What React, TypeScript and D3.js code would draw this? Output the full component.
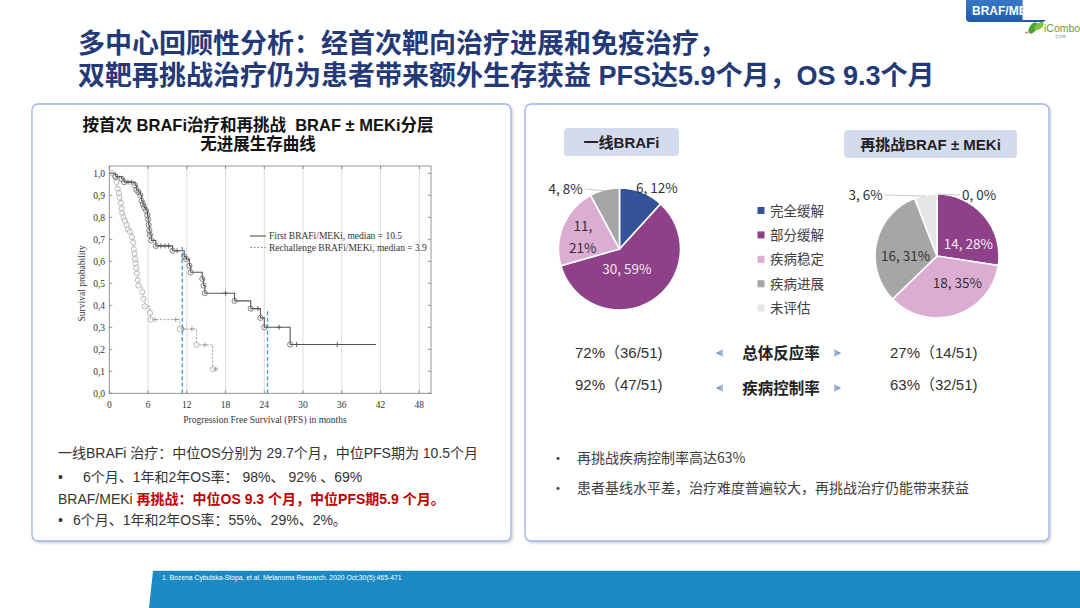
import React from "react";
import * as d3 from "d3";

// ---------------- DATA ----------------
const TITLE_LINE1 = "多中心回顾性分析：经首次靶向治疗进展和免疫治疗，";
const TITLE_LINE2 = "双靶再挑战治疗仍为患者带来额外生存获益 PFS达5.9个月，OS 9.3个月";
const TAB_TEXT = "BRAF/MEKi";
const KM_TITLE1 = "按首次 BRAFi治疗和再挑战  BRAF ± MEKi分层";
const KM_TITLE2 = "无进展生存曲线";
const X_TICKS = [0, 6, 12, 18, 24, 30, 36, 42, 48];
const Y_TICKS = [0, 0.1, 0.2, 0.3, 0.4, 0.5, 0.6, 0.7, 0.8, 0.9, 1.0];
const X_LABEL = "Progression Free Survival (PFS) in months";
const Y_LABEL = "Survival probability";
const KM_LEGEND = ["First BRAFi/MEKi, median = 10.5", "Rechallenge BRAFi/MEKi, median = 3.9"];

// step points [month, survival]
const FIRST_STEPS: [number, number][] = [
  [0, 1.0], [1.0, 0.985], [1.9, 0.975], [2.3, 0.96], [4.0, 0.945], [4.2, 0.925], [4.5, 0.915],
  [4.8, 0.9], [5.0, 0.875], [5.2, 0.86], [5.4, 0.845], [5.7, 0.83], [5.9, 0.81], [6.0, 0.79],
  [6.1, 0.765], [6.2, 0.74], [6.3, 0.72], [6.5, 0.695], [7.2, 0.67], [9.8, 0.648],
  [11.6, 0.622], [11.9, 0.61], [12.4, 0.58], [12.6, 0.55], [14.4, 0.52], [14.6, 0.49],
  [14.8, 0.455], [19.4, 0.42], [21.9, 0.385], [23.4, 0.343], [24.0, 0.30], [28.0, 0.222],
];
const FIRST_END = 41.3;
const FIRST_CENSOR: [number, number][] = [
  [2.9, 0.96], [3.4, 0.96], [8.0, 0.67], [8.6, 0.67], [9.2, 0.67], [10.5, 0.648],
  [18.0, 0.455], [23.0, 0.385], [26.3, 0.30], [29.0, 0.222], [35.3, 0.222],
];
const RECH_STEPS: [number, number][] = [
  [0.4, 1.0], [0.9, 0.985], [1.1, 0.96], [1.3, 0.93], [1.5, 0.91], [1.6, 0.89], [1.8, 0.865],
  [1.9, 0.84], [2.0, 0.82], [2.2, 0.80], [2.4, 0.785], [2.7, 0.765], [2.9, 0.745], [3.2, 0.735],
  [3.5, 0.71], [3.7, 0.685], [3.8, 0.655], [3.9, 0.635], [4.0, 0.61], [4.1, 0.59], [4.2, 0.57],
  [4.3, 0.545], [4.4, 0.515], [4.5, 0.49], [5.1, 0.46], [5.3, 0.43], [5.5, 0.395],
  [6.3, 0.365], [6.4, 0.335], [10.9, 0.292], [13.5, 0.22], [16.0, 0.11],
];
const RECH_END = 16.6;
const RECH_CENSOR: [number, number][] = [
  [7.1, 0.335], [10.3, 0.335], [11.5, 0.292], [12.8, 0.292], [14.8, 0.22], [16.5, 0.11],
];
const MEDIAN_MONTHS = [11.3, 24.5];
const MEDIAN_TOPS = [0.665, 0.38];

const LEFT_LINES = [
  "一线BRAFi 治疗：中位OS分别为 29.7个月，中位PFS期为 10.5个月",
  "6个月、1年和2年OS率： 98%、 92% 、69%",
  "BRAF/MEKi ",
  "再挑战：中位OS 9.3 个月，中位PFS期5.9 个月。",
  "6个月、1年和2年OS率：55%、29%、2%。",
];

const CATEGORIES = ["完全缓解", "部分缓解", "疾病稳定", "疾病进展", "未评估"];
const CAT_COLORS = ["#33529a", "#8e4189", "#dbadd3", "#a6a6a6", "#e6e6e6"];
const PIE1_TITLE = "一线BRAFi";
const PIE2_TITLE = "再挑战BRAF ± MEKi";
const PIE1_VALUES = [6, 30, 11, 4, 0];
const PIE1_PCTS = ["12%", "59%", "21%", "8%", ""];
const PIE2_VALUES = [0, 14, 18, 16, 3];
const PIE2_PCTS = ["0%", "28%", "35%", "31%", "6%"];

const STAT_NAMES = ["总体反应率", "疾病控制率"];
const STAT_FIRST = ["72%（36/51)", "92%（47/51)"];
const STAT_RECH = ["27%（14/51)", "63%（32/51)"];

const RIGHT_BULLETS = ["再挑战疾病控制率高达63%", "患者基线水平差，治疗难度普遍较大，再挑战治疗仍能带来获益"];
const CITATION = "1. Bozena Cybulska-Stopa,  et al. Melanoma Research. 2020 Oct;30(5):465-471";

// ---------------- STYLE / LAYOUT ----------------
const SANS = "'Liberation Sans', Arial, 'Noto Sans CJK SC', sans-serif";
const CJK = "'Noto Sans CJK SC', 'Liberation Sans', sans-serif";
const SERIF = "'Liberation Serif', 'Times New Roman', serif";
const NAVY = "#243a78";

type LabelCfg = { k: number; dx: number; dy: number; anchor: string; leader?: boolean; color: string; split?: boolean; hide?: boolean };
const PIE1_LABELS: LabelCfg[] = [
  { k: 1.15, dx: 12, dy: 4, anchor: "middle", color: "#333" },
  { k: 0.45, dx: -7, dy: -3, anchor: "middle", color: "#f3e4f1" },
  { k: 0.6, dx: -3, dy: 2, anchor: "middle", color: "#333", split: true },
  { k: 1.0, dx: -22, dy: -1, anchor: "end", color: "#333", leader: true },
  { k: 1, dx: 0, dy: 0, anchor: "middle", color: "#333", hide: true },
];
const PIE2_LABELS: LabelCfg[] = [
  { k: 1.0, dx: 25, dy: 1, anchor: "start", color: "#333", leader: true },
  { k: 0.6, dx: 3, dy: 12, anchor: "middle", color: "#f6eaf5" },
  { k: 0.6, dx: 9, dy: -8, anchor: "middle", color: "#333" },
  { k: 0.6, dx: 5, dy: 8, anchor: "middle", color: "#333" },
  { k: 1.0, dx: -43, dy: 0, anchor: "end", color: "#333", leader: true },
];

function KMChart() {
  const x = d3.scaleLinear().domain([0, 48]).range([109.3, 419.3]);
  const y = d3.scaleLinear().domain([0, 1]).range([393.3, 173.3]);
  const boxTop = 166;
  const boxRight = 431;
  const line = d3.line<[number, number]>().x((d) => x(d[0])).y((d) => y(d[1])).curve(d3.curveStepAfter);
  const firstPts: [number, number][] = [...FIRST_STEPS, [FIRST_END, FIRST_STEPS[FIRST_STEPS.length - 1][1]]];
  const rechPts: [number, number][] = [...RECH_STEPS, [RECH_END, RECH_STEPS[RECH_STEPS.length - 1][1]]];
  const cross = (p: [number, number], c: string, i: number) => (
    <g key={i} stroke={c} strokeWidth={0.9}>
      <line x1={x(p[0]) - 2.5} x2={x(p[0]) + 2.5} y1={y(p[1])} y2={y(p[1])} />
      <line x1={x(p[0])} x2={x(p[0])} y1={y(p[1]) - 2.5} y2={y(p[1]) + 2.5} />
    </g>
  );
  return (
    <g>
      {X_TICKS.filter((t) => t > 0).map((t) => (
        <line key={t} x1={x(t)} x2={x(t)} y1={boxTop} y2={y(0)} stroke="#d4d4d4" strokeWidth={0.8} />
      ))}
      <rect x={x(0)} y={boxTop} width={boxRight - x(0)} height={y(0) - boxTop} fill="none" stroke="#8a8a8a" strokeWidth={0.9} />
      {X_TICKS.map((t) => (
        <g key={t}>
          <line x1={x(t)} x2={x(t)} y1={y(0)} y2={y(0) - 3} stroke="#777" strokeWidth={0.8} />
          <line x1={x(t)} x2={x(t)} y1={boxTop} y2={boxTop + 3} stroke="#777" strokeWidth={0.8} />
          <text x={x(t)} y={407.5} fontSize={9.5} fontFamily={SERIF} fill="#333" textAnchor="middle">{t}</text>
        </g>
      ))}
      {Y_TICKS.map((t) => (
        <g key={t}>
          <line x1={x(0)} x2={x(0) + 3} y1={y(t)} y2={y(t)} stroke="#777" strokeWidth={0.8} />
          <line x1={boxRight} x2={boxRight - 3} y1={y(t)} y2={y(t)} stroke="#777" strokeWidth={0.8} />
          <text x={105} y={y(t) + 3.2} fontSize={9.5} fontFamily={SERIF} fill="#333" textAnchor="end">{t.toFixed(1).replace(".", ",")}</text>
        </g>
      ))}
      <text x={265} y={423} fontSize={9.5} fontFamily={SERIF} fill="#333" textAnchor="middle">{X_LABEL}</text>
      <text transform={`translate(85,${(y(0) + y(1)) / 2}) rotate(-90)`} fontSize={9.5} fontFamily={SERIF} fill="#333" textAnchor="middle">{Y_LABEL}</text>
      {MEDIAN_MONTHS.map((m, i) => (
        <line key={i} x1={x(m)} x2={x(m)} y1={y(0)} y2={y(MEDIAN_TOPS[i])} stroke="#3d9ad8" strokeWidth={1.3} strokeDasharray="4,2.5" />
      ))}
      <path d={line(rechPts) || ""} fill="none" stroke="#a0a0a0" strokeWidth={1} strokeDasharray="2,1.6" />
      {RECH_STEPS.map((p, i) => (
        <circle key={i} cx={x(p[0])} cy={y(p[1])} r={2.6} fill="white" fillOpacity={0.6} stroke="#a8a8a8" strokeWidth={0.8} />
      ))}
      {RECH_CENSOR.map((p, i) => cross(p, "#999", i))}
      <path d={line(firstPts) || ""} fill="none" stroke="#555" strokeWidth={1.1} />
      {FIRST_STEPS.slice(1).map((p, i) => (
        <circle key={i} cx={x(p[0])} cy={y(p[1])} r={2.6} fill="none" stroke="#666" strokeWidth={0.8} />
      ))}
      {FIRST_CENSOR.map((p, i) => cross(p, "#555", i))}
      <line x1={250} x2={266} y1={236} y2={236} stroke="#555" strokeWidth={1.1} />
      <text x={269} y={239} fontSize={9.5} fontFamily={SERIF} fill="#333">{KM_LEGEND[0]}</text>
      <line x1={250} x2={266} y1={247.5} y2={247.5} stroke="#999" strokeWidth={1} strokeDasharray="2,1.6" />
      <text x={269} y={250.5} fontSize={9.5} fontFamily={SERIF} fill="#333">{KM_LEGEND[1]}</text>
    </g>
  );
}

function Pie({ cx, cy, r, values, pcts, labels }: { cx: number; cy: number; r: number; values: number[]; pcts: string[]; labels: LabelCfg[] }) {
  const arcs = d3.pie<number>().sort(null).value((d) => d)(values);
  const arc = d3.arc<d3.PieArcDatum<number>>().innerRadius(0).outerRadius(r);
  return (
    <g transform={`translate(${cx},${cy})`}>
      {arcs.map((a, i) =>
        a.value > 0 ? <path key={i} d={arc(a) || ""} fill={CAT_COLORS[i]} stroke="white" strokeWidth={1.6} /> : null
      )}
      {arcs.map((a, i) => {
        const cfg = labels[i];
        if (cfg.hide) return null;
        const mid = (a.startAngle + a.endAngle) / 2;
        const px = Math.sin(mid) * r * cfg.k;
        const py = -Math.cos(mid) * r * cfg.k;
        const tx = px + cfg.dx;
        const ty = py + cfg.dy;
        const txt = `${values[i]}, ${pcts[i]}`;
        return (
          <g key={i}>
            {cfg.leader && (
              <line
                x1={cfg.anchor === "end" ? tx + 2 : tx - 2}
                y1={ty}
                x2={px}
                y2={py + (cfg.anchor === "end" ? 1 : 0)}
                stroke="#bdbdbd"
                strokeWidth={0.8}
              />
            )}
            {cfg.split ? (
              <text x={tx} y={ty} fontSize={13.5} fontFamily={CJK} fill={cfg.color} textAnchor={cfg.anchor as any}>
                <tspan x={tx} dy={-6}>{`${values[i]},`}</tspan>
                <tspan x={tx} dy={22}>{pcts[i]}</tspan>
              </text>
            ) : (
              <text x={tx} y={ty + 5} fontSize={13.5} fontFamily={CJK} fill={cfg.color} textAnchor={cfg.anchor as any}>{txt}</text>
            )}
          </g>
        );
      })}
    </g>
  );
}

export default function App() {
  return (
    <svg width={1080} height={608} viewBox="0 0 1080 608" style={{ position: "absolute", left: 0, top: 0, background: "white" }}>
      <defs>
        <filter id="sh" x="-5%" y="-5%" width="110%" height="110%">
          <feDropShadow dx={1.5} dy={1.5} stdDeviation={1.2} floodColor="#000" floodOpacity={0.18} />
        </filter>
        <linearGradient id="tab" x1="0" x2="0" y1="0" y2="1">
          <stop offset="0" stopColor="#3f7fd0" />
          <stop offset="1" stopColor="#1f5aa8" />
        </linearGradient>
        <linearGradient id="arrowL" x1="0" x2="1" y1="0" y2="0">
          <stop offset="0" stopColor="#5f7fb8" />
          <stop offset="1" stopColor="#b8c6e2" />
        </linearGradient>
        <linearGradient id="arrowR" x1="1" x2="0" y1="0" y2="0">
          <stop offset="0" stopColor="#5f7fb8" />
          <stop offset="1" stopColor="#b8c6e2" />
        </linearGradient>
      </defs>
      <rect width={1080} height={608} fill="white" />

      {/* top-right tab + logo */}
      <rect x={966} y={-6} width={80} height={28} rx={4} fill="url(#tab)" />
      <text x={972} y={15} fontSize={12} fontWeight="bold" fontFamily={SANS} fill="white">{TAB_TEXT}</text>
      <rect x={1023} y={-2} width={60} height={22} fill="white" />
      <line x1={1023} x2={1023} y1={0} y2={20} stroke="#e6e6e6" strokeWidth={1} />
      <g>
        <ellipse cx={1033} cy={28} rx={3.5} ry={6.5} fill="#4aa82e" transform="rotate(35 1033 28)" />
        <ellipse cx={1039} cy={26} rx={3} ry={5.5} fill="#7cc243" transform="rotate(50 1039 26)" />
        <text x={1025} y={34} fontSize={6} fill="#d22" fontFamily={SANS}>+</text>
        <text x={1044} y={32} fontSize={10.5} fontFamily={SANS} fill="#6b9a3a">iCombo</text>
        <text x={1055} y={38} fontSize={3.5} fontFamily={CJK} fill="#8aa">爱康博</text>
      </g>

      {/* title */}
      <text x={78} y={53} fontSize={27} fontWeight="bold" fontFamily={SANS} fill={NAVY}>{TITLE_LINE1}</text>
      <text x={78} y={85} fontSize={27} fontWeight="bold" fontFamily={SANS} fill={NAVY}>{TITLE_LINE2}</text>

      {/* panels */}
      <rect x={32} y={104} width={479} height={437} rx={6} fill="white" stroke="#9fb2e8" strokeWidth={1.3} filter="url(#sh)" />
      <rect x={525} y={104} width={524} height={437} rx={6} fill="white" stroke="#9fb2e8" strokeWidth={1.3} filter="url(#sh)" />

      {/* KM title */}
      <text x={258} y={131} fontSize={16.5} fontWeight="bold" fontFamily={SANS} fill="#111" textAnchor="middle" style={{ whiteSpace: "pre" }}>{KM_TITLE1}</text>
      <text x={258} y={150} fontSize={16.5} fontWeight="bold" fontFamily={SANS} fill="#111" textAnchor="middle">{KM_TITLE2}</text>
      <KMChart />

      {/* left texts */}
      <g fontFamily={SANS} fontSize={14} fill="#333">
        <text x={58} y={458}>{LEFT_LINES[0]}</text>
        <text x={58} y={482}>•</text>
        <text x={83} y={482}>{LEFT_LINES[1]}</text>
        <text x={58} y={504} style={{ whiteSpace: "pre" }}>
          {LEFT_LINES[2]}
          <tspan fill="#c00000" fontWeight="bold">{LEFT_LINES[3]}</tspan>
        </text>
        <text x={58} y={525}>•</text>
        <text x={73} y={525}>{LEFT_LINES[4]}</text>
      </g>

      {/* pie titles */}
      <rect x={564} y={128} width={115} height={28} rx={4} fill="#d5dbef" />
      <text x={621.5} y={148} fontSize={15} fontWeight="bold" fontFamily={SANS} fill="#222" textAnchor="middle">{PIE1_TITLE}</text>
      <rect x={844} y={130} width={173} height={28} rx={4} fill="#d5dbef" />
      <text x={930.5} y={150} fontSize={15} fontWeight="bold" fontFamily={SANS} fill="#222" textAnchor="middle">{PIE2_TITLE}</text>

      <Pie cx={619.5} cy={249} r={61} values={PIE1_VALUES} pcts={PIE1_PCTS} labels={PIE1_LABELS} />
      <Pie cx={937} cy={256} r={62} values={PIE2_VALUES} pcts={PIE2_PCTS} labels={PIE2_LABELS} />

      {/* legend */}
      {CATEGORIES.map((c, i) => (
        <g key={c}>
          <rect x={757.5} y={207 + i * 24.4} width={7} height={7} fill={CAT_COLORS[i]} />
          <text x={770} y={215.5 + i * 24.4} fontSize={13.5} fontFamily={CJK} fill="#404040">{c}</text>
        </g>
      ))}

      {/* stats */}
      {STAT_NAMES.map((n, i) => {
        const yy = i === 0 ? 353 : 385;
        const yn = i === 0 ? 353 : 388;
        return (
          <g key={n}>
            <text x={575} y={yy + 5} fontSize={15} fontFamily={SANS} fill="#333">{STAT_FIRST[i]}</text>
            <polygon points={`${716},${yn} ${723},${yn - 4} ${723},${yn + 4}`} fill="url(#arrowL)" />
            <text x={781} y={yn + 5.5} fontSize={15.5} fontWeight="bold" fontFamily={CJK} fill="#222" textAnchor="middle">{n}</text>
            <polygon points={`${841},${yn} ${834},${yn - 4} ${834},${yn + 4}`} fill="url(#arrowR)" />
            <text x={890} y={yy + 5} fontSize={15} fontFamily={SANS} fill="#333">{STAT_RECH[i]}</text>
          </g>
        );
      })}

      {/* right bullets */}
      {RIGHT_BULLETS.map((b, i) => (
        <g key={i} fontFamily={CJK} fontSize={14} fill="#404040">
          <text x={551} y={463 + i * 30}>•</text>
          <text x={577} y={463 + i * 30}>{b}</text>
        </g>
      ))}

      {/* footer */}
      <polygon points="153,571 1080,571 1080,608 149,608" fill="#1b8ac4" />
      <line x1={153} x2={1080} y1={570.5} y2={570.5} stroke="#cfe3f1" strokeWidth={1} />
      <text x={162} y={579.5} fontSize={6.8} fontFamily={SANS} fill="white">{CITATION}</text>
    </svg>
  );
}
